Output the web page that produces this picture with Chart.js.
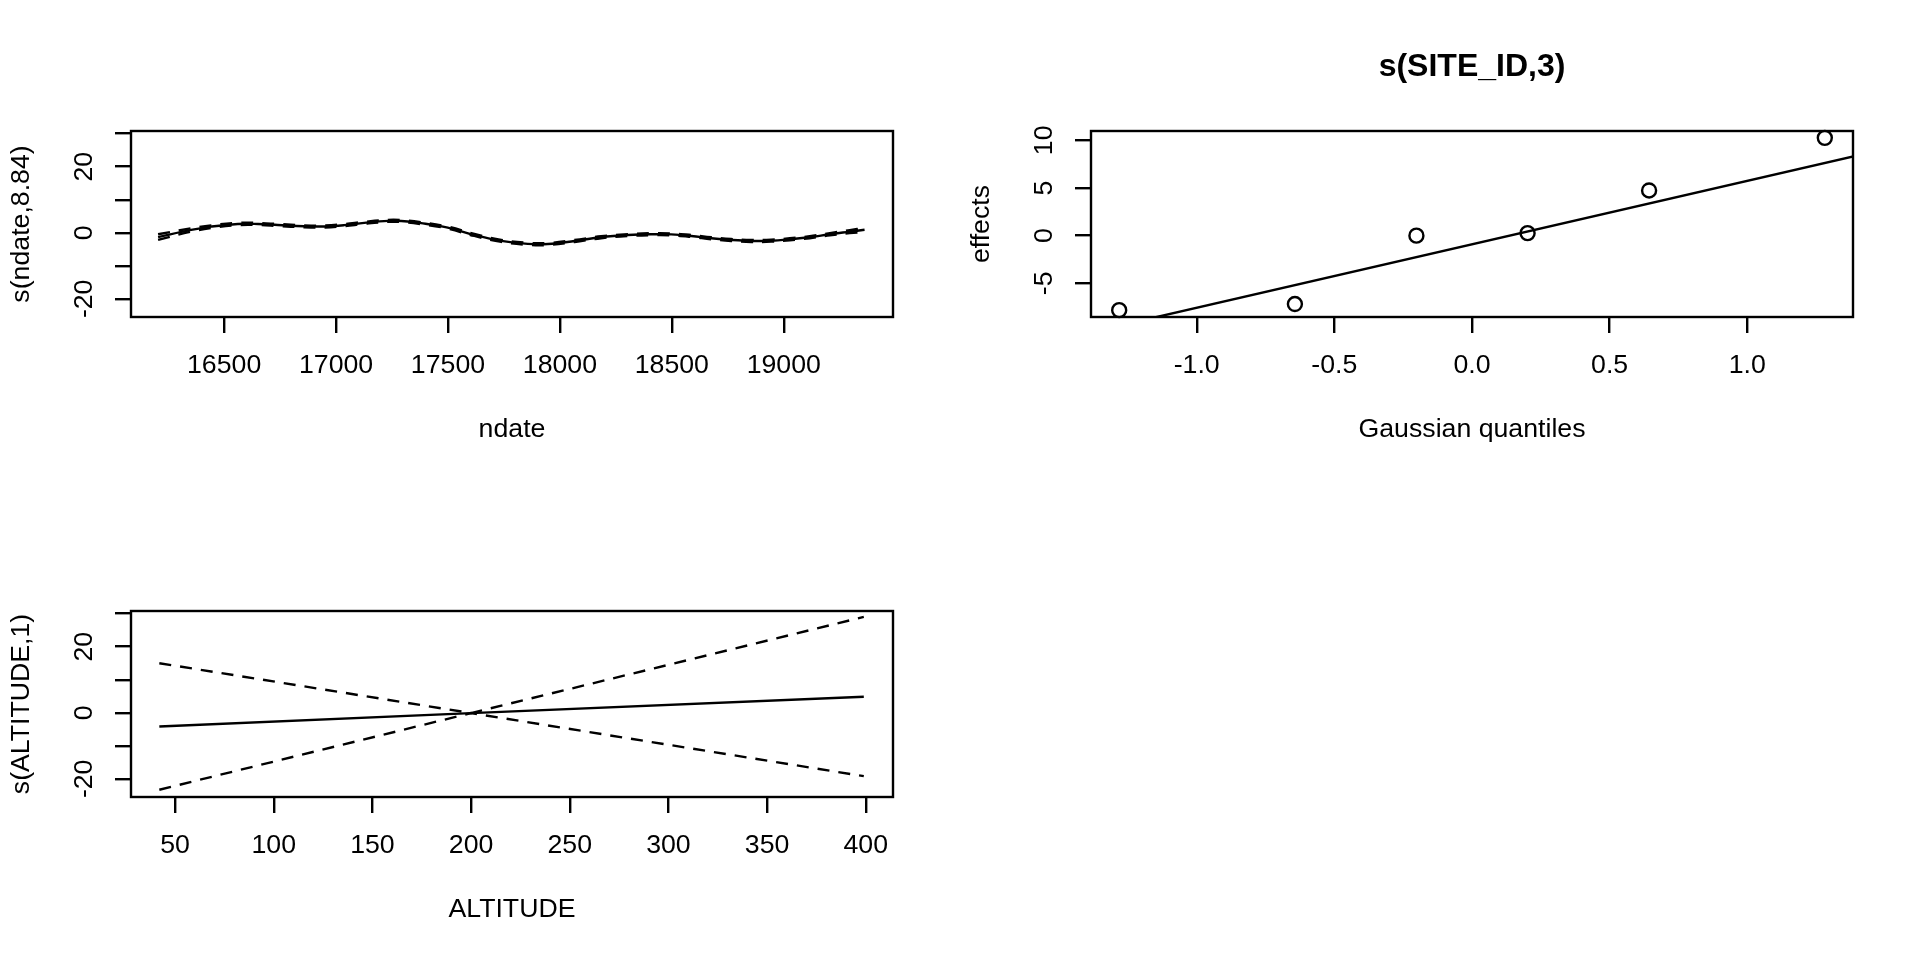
<!DOCTYPE html>
<html><head><meta charset="utf-8">
<script src="https://cdn.jsdelivr.net/npm/chart.js@4.4.1/dist/chart.umd.min.js"></script>
<style>
html,body{margin:0;padding:0;background:#fff;width:1920px;height:960px;overflow:hidden}
.p{position:absolute;width:960px;height:480px}
</style></head><body>
<div class="p" style="left:0;top:0"><canvas id="c1" width="960" height="480"></canvas></div>
<div class="p" style="left:960px;top:0"><canvas id="c2" width="960" height="480"></canvas></div>
<div class="p" style="left:0;top:480px"><canvas id="c3" width="960" height="480"></canvas></div>
<script>
// ---- Panel 1: s(ndate,8.84)
const ndate = [16205,16353,16442,16561,16651,16740,16857,16947,17036,17126,17233,17291,17380,17499,17618,17738,17857,17946,18065,18184,18304,18408,18497,18587,18676,18765,18855,18944,19027,19116,19206,19295,19361];
const ndateFit = [-1.3,0.85,1.85,2.66,2.66,2.36,1.95,1.9,2.3,3.0,3.6,3.55,2.9,1.55,-0.67,-2.45,-3.35,-3.4,-2.5,-1.36,-0.7,-0.45,-0.5,-0.97,-1.66,-2.18,-2.48,-2.4,-1.97,-1.36,-0.45,0.33,0.9];
const ndateUpper = [-0.45,1.35,2.25,3.01,2.96,2.66,2.25,2.2,2.6,3.3,3.9,3.85,3.2,1.85,-0.37,-2.15,-3.05,-3.1,-2.2,-1.06,-0.4,-0.15,-0.2,-0.67,-1.36,-1.88,-2.18,-2.1,-1.67,-1.06,-0.1,0.78,1.5];
const ndateLower = [-2.15,0.35,1.45,2.31,2.36,2.06,1.65,1.6,2.0,2.7,3.3,3.25,2.6,1.25,-0.97,-2.75,-3.65,-3.7,-2.8,-1.66,-1.0,-0.75,-0.8,-1.27,-1.96,-2.48,-2.78,-2.7,-2.27,-1.66,-0.8,-0.12,0.3];
const ndateTicks = [16500,17000,17500,18000,18500,19000];
const ndateTickLabels = ['16500','17000','17500','18000','18500','19000'];
const smoothYTicks = [-20,-10,0,10,20,30];
const smoothYTickLabels = ['-20','','0','','20',''];

// ---- Panel 2: s(SITE_ID,3) QQ plot
const siteQuantiles = [-1.2816,-0.6433,-0.2019,0.2019,0.6433,1.2816];
const siteEffects = [-7.82,-7.18,0.0,0.26,4.74,10.26];
const qqLineX = [-1.5,1.5];
const qqLineY = [-10.9,9.08];
const qqXTicks = [-1.0,-0.5,0,0.5,1.0];
const qqXTickLabels = ['-1.0','-0.5','0.0','0.5','1.0'];
const qqYTicks = [-5,0,5,10];
const qqYTickLabels = ['-5','0','5','10'];

// ---- Panel 3: s(ALTITUDE,1)
const altitude = [42,200,399];
const altitudeFit = [-4.15,-0.1,4.85];
const altitudeUpper = [15.0,-0.1,29.0];
const altitudeLower = [-23.3,-0.1,-19.2];
const altitudeTicks = [50,100,150,200,250,300,350,400];
const altitudeTickLabels = ['50','100','150','200','250','300','350','400'];

Chart.defaults.font.family = "'Liberation Sans', Arial, Helvetica, sans-serif";
Chart.defaults.color = '#000';
const FS = 26.7;
const LW = 2.4;

const boxPlugin = {id:'rbox', afterDatasetsDraw(chart){
  const {ctx, chartArea:a} = chart;
  ctx.save(); ctx.strokeStyle = '#000'; ctx.lineWidth = LW;
  ctx.strokeRect(a.left, a.top, a.right - a.left, a.bottom - a.top);
  ctx.restore();
}};

const gridOpts = {drawOnChartArea:false, drawTicks:true, tickLength:16, color:'#000', lineWidth:LW};

function xScale(min, max, ticks, labels, title){
  return {type:'linear', min, max,
    afterBuildTicks: s => { s.ticks = ticks.map(v => ({value:v})); },
    afterFit: s => { s.height = 163; },
    ticks:{autoSkip:false, minRotation:0, maxRotation:0, padding:17, color:'#000', font:{size:FS},
      callback:(v,i) => labels[i]},
    grid:gridOpts, border:{display:false},
    title:{display:true, text:title, color:'#000', font:{size:FS}, padding:{top:0,bottom:34}}
  };
}
function yScale(min, max, ticks, labels, title, pad){
  return {type:'linear', min, max,
    afterBuildTicks: s => { s.ticks = ticks.map(v => ({value:v})); },
    afterFit: s => { s.width = 131; },
    ticks:{autoSkip:false, minRotation:90, maxRotation:90, crossAlign:'center', padding:pad, color:'#000', font:{size:FS},
      callback:(v,i) => labels[i]},
    grid:gridOpts, border:{display:false},
    title:{display:true, text:title, color:'#000', font:{size:FS}, padding:{top:6,bottom:0}}
  };
}
function pts(xs, ys){ return xs.map((x,i) => ({x, y: ys[i]})); }
function lineDs(xs, ys, dashed, tension){
  return {data: pts(xs, ys), showLine:true, borderColor:'#000', borderWidth:LW,
    borderDash: dashed ? [12,9] : [], pointRadius:0, fill:false, tension: tension||0, clip:0};
}
function baseOpts(scales, extraPlugins, padTop){
  return {responsive:false, animation:false, devicePixelRatio:1,
    layout:{padding:{top:padTop, right:67, left:0, bottom:0}},
    plugins:Object.assign({legend:{display:false}, tooltip:{enabled:false}}, extraPlugins||{}),
    scales};
}

new Chart(document.getElementById('c1'), {
  type:'scatter',
  data:{datasets:[
    lineDs(ndate, ndateFit, false, 0.4),
    lineDs(ndate, ndateUpper, true, 0.4),
    lineDs(ndate, ndateLower, true, 0.4)
  ]},
  options: baseOpts({
    x: xScale(16084, 19488, ndateTicks, ndateTickLabels, 'ndate'),
    y: yScale(-25.5, 30.8, smoothYTicks, smoothYTickLabels, 's(ndate,8.84)', 11)
  }, null, 131),
  plugins:[boxPlugin]
});

new Chart(document.getElementById('c2'), {
  type:'scatter',
  data:{datasets:[
    {data: pts(siteQuantiles, siteEffects), showLine:false, pointStyle:'circle', pointRadius:7,
      pointBorderColor:'#000', pointBackgroundColor:'rgba(0,0,0,0)', pointBorderWidth:LW, clip:false},
    lineDs(qqLineX, qqLineY, false, 0)
  ]},
  options: baseOpts({
    x: xScale(-1.384, 1.384, qqXTicks, qqXTickLabels, 'Gaussian quantiles'),
    y: yScale(-8.54, 10.98, qqYTicks, qqYTickLabels, 'effects', 15.5)
  }, {title:{display:true, text:'s(SITE_ID,3)', fullSize:false, color:'#000',
        font:{size:32, weight:'bold'}, padding:{top:47.8, bottom:44.8}}}, 0),
  plugins:[boxPlugin]
});

new Chart(document.getElementById('c3'), {
  type:'scatter',
  data:{datasets:[
    lineDs(altitude, altitudeFit, false, 0),
    lineDs(altitude, altitudeUpper, true, 0),
    lineDs(altitude, altitudeLower, true, 0)
  ]},
  options: baseOpts({
    x: xScale(27.65, 413.8, altitudeTicks, altitudeTickLabels, 'ALTITUDE'),
    y: yScale(-25.5, 30.8, smoothYTicks, smoothYTickLabels, 's(ALTITUDE,1)', 11)
  }, null, 131),
  plugins:[boxPlugin]
});
</script>
</body></html>
